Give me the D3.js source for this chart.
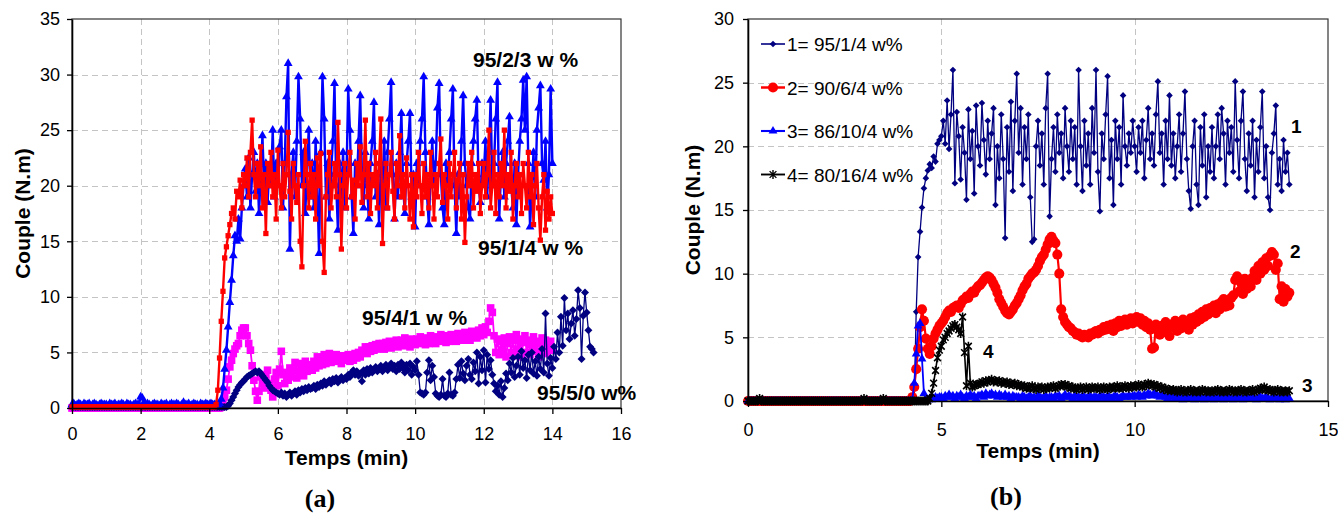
<!DOCTYPE html>
<html><head><meta charset="utf-8">
<script src="https://cdn.jsdelivr.net/npm/d3@7"></script>
<style>body{margin:0;background:#fff}svg{display:block}</style>
</head><body><svg id="c" width="1338" height="513"></svg>
<script>
// ---------------- DATA ----------------
// sampling step (min) of every series; each row below = 1 minute (20 samples)
const sampleStep = 0.05;

// Panel (a) tick values and labels
const aXTicks = [0,2,4,6,8,10,12,14,16];
const aYTicks = [0,5,10,15,20,25,30,35];
const aSeriesNames = ["95/2/3 w %","95/1/4 w %","95/4/1 w %","95/5/0 w%"];

// 95/2/3 w % (blue triangles)
const a_blue = [
 .3,.4,.2,.3,.4,.3,.2,.4,.3,.3,.4,.2,.3,.4,.3,.2,.3,.4,.3,.3,
 .3,.2,.4,.3,.3,.4,.2,.3,.3,.4,.3,.2,.4,.3,.3,.2,.3,.4,.3,.3,
 1.0,.9,.5,.3,.4,.3,.2,.3,.4,.3,.3,.2,.4,.3,.3,.4,.2,.3,.4,.3,
 .3,.4,.3,.2,.3,.5,.3,.3,.4,.2,.3,.4,.3,.3,.2,.4,.3,.3,.4,.3,
 .3,.4,.3,.3,.3,.3,.4,.8,1.8,3.5,5.2,7.3,9.5,11.5,13.7,15.5,15,17,15.2,18,
 20,21.5,19,22.5,18,21,23,19.5,22,17.5,21,24.5,20,22,18.5,21.5,20,25,19,22,
 20,23.5,25,18,22,28,31,14.3,21,23,19,24,29.8,26,20,23,17.5,22,25,19,
 22,18,24,20,13.9,23,29.8,26,19,22,17,21,24,29.2,20,16,22,19,23,18,
 21,28.7,25,19,15.7,22,20,24,28.1,21,18,23,20,17,22,24,27.5,19,21,16.5,
 22,20,24,18,23,26,29.3,21,17,22,19,23,26.5,20,17.5,22,24,26.5,19,21,
 16.3,22,20,24,26,29.8,23,19,16.5,21,24,20,22,27,29.2,21,18,16.5,22,20,
 23,26,28.7,20,15.7,21,19,24,28.1,22,20,18,17,22,24,26,27.7,20,18.5,22,
 21,24,19,23,27.7,20,22,26,29.3,17,21,23,19,22,24,26.2,20,18,22,16.5,
 21,24,26,29.5,25,29.8,22,16.3,20,23,19,25,27,29,22,20.5,24,18,21,28.7,
 22];

// 95/1/4 w % (red squares)
const a_red = [
 .1,.1,.1,.1,.1,.1,.1,.1,.1,.1,.1,.1,.1,.1,.1,.1,.1,.1,.1,.1,
 .1,.1,.1,.1,.1,.1,.1,.1,.1,.1,.1,.1,.1,.1,.1,.1,.1,.1,.1,.1,
 .1,.1,.1,.1,.1,.1,.1,.1,.1,.1,.1,.1,.1,.1,.1,.1,.1,.1,.1,.1,
 .1,.1,.1,.1,.1,.1,.1,.1,.1,.1,.1,.1,.1,.1,.1,.1,.1,.1,.1,.1,
 .1,.1,.1,.1,.3,1.6,4.5,7.8,10.5,13.5,14.5,15.5,16.5,17.5,18,17,19.5,19,20.5,18,
 21,20,22.5,19,23,25.9,21,19,22,20,23.5,18,21,15.7,22,20,23,19,21,17,
 23.2,20,18,22,19,21,24.8,19.5,17,22,20,18.5,21,15,12.7,20,24,21,18,22,
 19,21,17,22.5,20,22.9,15,12.2,19,21,23,18,20,22,19,25.7,21,14.3,20,22,
 18,21,23,19,20.5,17,22,20,23.5,18.5,21,25.9,19,22,17.5,21,20,23,18,22,
 26,14.8,20,22,18,21,23,19.5,17,22,20,24.5,19,21,18,22.5,20,17,21,16.3,
 21,19,23,20,17.5,22,19,21,18,23,20,17,21,19,22,24.2,18.5,21,20,17,
 22,19,21,23,18,20.5,22,17,21,14.9,19,22,20,23,18,21,19.5,22,17.5,20,
 22,19,21,25,18,20,23,17.5,21,19,22,20,25,18,21,19.5,23,17,20,22,
 19,21,17.5,22,20,18,23,19,21,16.5,20,22,18,15.1,19,21,16,19.5,17,19,
 17.5];

// 95/4/1 w % (magenta squares)
const a_magenta = [
 0,0,0,0,0,0,0,0,0,0,0,0,0,0,0,0,0,0,0,0,
 0,0,0,0,0,0,0,0,0,0,0,0,0,0,0,0,0,0,0,0,
 0,0,0,0,0,0,0,0,0,0,0,0,0,0,0,0,0,0,0,0,
 0,0,0,0,0,0,0,0,0,0,0,0,0,0,0,0,0,0,0,0,
 0,0,0,0,0,0,0,.1,.5,1.0,1.6,2.6,3.7,4.3,4.9,5.3,5.6,5.8,6.5,7.0,
 7.2,7.2,6.5,5.8,5.2,3.8,2.5,1.5,.7,1.5,2.8,2.2,1.8,3.0,3.4,2.2,1.6,1.0,2.6,3.2,
 2.0,3.5,5.1,3.0,2.2,3.2,2.5,3.6,2.8,3.4,4.1,2.7,4.0,3.2,3.8,2.9,4.2,3.3,3.9,3.4,
 3.4,4.2,3.6,4.6,3.8,4.4,3.9,4.8,4.0,4.5,4.9,4.1,4.6,4.2,4.8,4.3,4.5,4.0,4.7,4.4,
 4.3,4.8,4.2,4.6,4.3,4.9,4.5,5.0,4.6,5.2,5.0,5.5,4.9,5.5,5.1,5.6,5.2,5.7,5.3,5.8,
 5.4,5.8,5.3,5.9,5.5,6.0,5.4,5.8,5.6,6.1,5.5,5.9,6.1,5.6,6.3,5.7,6.0,5.5,6.2,5.8,
 5.7,6.2,5.8,6.4,5.9,6.3,5.7,6.2,5.8,6.5,6.0,6.3,5.8,6.4,6.0,6.6,6.1,6.4,5.9,6.5,
 6.0,6.6,6.2,6.5,6.0,6.7,6.2,6.5,6.1,6.8,6.3,6.6,6.1,6.9,6.4,6.7,6.3,7.0,6.5,7.2,
 6.6,7.3,6.8,7.8,9.0,8.6,6.5,5.0,6.2,4.8,6.0,5.2,6.3,4.6,5.8,6.4,5.0,6.1,4.7,6.6,
 5.3,6.2,4.6,5.9,6.5,5.0,6.1,4.8,5.7,6.4,5.1,6.0,4.6,5.8,6.3,5.0,6.1,4.9,5.6,6.0,
 5.2];

// 95/5/0 w% (navy diamonds) - runs to 15.2 min
const a_navy = [
 .1,.1,.1,.1,.1,.1,.1,.1,.1,.1,.1,.1,.1,.1,.1,.1,.1,.1,.1,.1,
 .1,.1,.1,.1,.1,.1,.1,.1,.1,.1,.1,.1,.1,.1,.1,.1,.1,.1,.1,.1,
 .1,.1,.1,.1,.1,.1,.1,.1,.1,.1,.1,.1,.1,.1,.1,.1,.1,.1,.1,.1,
 .1,.1,.1,.1,.1,.1,.1,.1,.1,.1,.1,.1,.1,.1,.1,.1,.1,.1,.1,.1,
 .1,.1,.1,.1,.1,.1,.1,.1,.1,.1,.1,.2,.4,.7,1.0,1.3,1.6,1.9,2.1,2.3,
 2.4,2.6,2.8,2.9,3.0,3.1,3.2,3.3,3.2,3.3,3.1,2.9,2.7,2.5,2.3,2.0,1.8,1.6,1.5,1.4,
 1.3,1.2,1.4,1.1,1.3,1.0,1.2,1.4,1.1,1.3,1.5,1.2,1.6,1.4,1.7,1.5,1.8,1.6,1.9,1.7,
 1.8,2.0,1.7,2.1,1.9,2.2,2.0,2.4,2.1,2.3,2.5,2.2,2.6,2.4,2.7,2.3,2.6,2.8,2.5,2.7,
 2.6,3.0,2.8,3.2,3.4,3.0,3.3,2.9,3.1,2.4,3.4,3.0,3.5,3.1,3.6,3.2,3.4,3.7,3.3,3.5,
 3.8,3.3,3.6,3.9,3.4,3.7,4.0,3.5,3.8,3.3,3.9,3.5,4.1,3.6,3.2,3.9,3.4,4.0,3.0,3.7,
 3.4,4.2,3.0,1.4,1.3,1.2,1.4,3.2,4.3,2.5,3.8,2.8,1.3,1.1,1.0,1.2,2.6,1.1,1.0,1.3,
 3.2,1.2,1.1,1.4,2.6,3.9,2.7,4.2,3.1,2.5,3.8,4.4,3.0,2.6,4.1,3.3,5.0,2.2,4.6,3.4,
 5.2,2.3,4.8,3.5,4.3,3.0,2.2,1.5,2.0,1.2,2.4,1.0,1.8,3.1,2.5,4.0,3.2,4.5,2.8,3.8,
 4.6,3.0,5.1,3.6,4.3,2.7,4.8,3.4,5.0,3.1,4.2,2.9,4.6,3.5,5.3,3.2,8.5,4.0,2.9,4.5,
 3.6,5.5,4.4,6.8,5.0,8.2,5.6,9.9,7.0,8.5,6.2,7.6,8.8,6.5,8.0,10.6,9.0,4.4,8.3,10.4,
 8.6,7.0,5.5,5.3,5.0];

// Panel (b) tick values and labels
const bXTicks = [0,5,10,15];
const bYTicks = [0,5,10,15,20,25,30];
const bLegendNames = ["1= 95/1/4 w%","2= 90/6/4 w%","3= 86/10/4 w%","4= 80/16/4 w%"];
const bCurveLabels = ["1","2","3","4"];

// 1 = 95/1/4 w% (navy diamonds)
const b_s1 = [
 0,0,0,0,0,0,0,0,0,0,0,0,0,0,0,0,0,0,0,0,
 0,0,0,0,0,0,0,0,0,0,0,0,0,0,0,0,0,0,0,0,
 0,0,0,0,0,0,0,0,0,0,0,0,0,0,0,0,0,0,0,0,
 0,0,0,0,0,0,0,0,0,0,0,0,0,0,0,0,0,0,0,0,
 0,0,0,0,0,0,.2,7,11.3,13.3,15.2,16.7,17.5,18.1,18.6,18.3,19.2,18.8,20.2,20.5,
 20.8,22.0,20.2,23.6,19.8,22.5,26.0,17.1,22.7,20.8,17.4,21.5,19.5,15.8,22.9,19.0,21.2,16.3,23.2,20.0,
 18.5,23.4,20.5,17.8,22.0,19.0,21.0,23.0,15.4,20.0,17.5,22.5,19.0,12.8,21.5,18.0,23.5,16.5,22.0,25.7,
 19.5,23.0,17.0,21.5,19.0,22.5,16.0,12.5,12.7,20.0,22.0,18.5,21.0,17.0,23.0,25.7,14.5,19.0,21.5,18.0,
 22.5,19.5,21.0,17.5,23.0,20.0,18.0,22.0,19.0,21.5,17.0,26.0,20.0,16.5,22.0,18.5,21.0,17.0,23.0,19.5,
 26.0,18.0,14.9,21.0,19.0,22.5,25.5,17.5,20.5,15.4,22.0,19.0,21.5,17.0,24.0,20.0,18.5,21.0,19.5,22.0,
 20.0,18.0,21.5,19.5,22.0,17.5,20.5,23.0,19.0,21.0,18.5,22.5,25.1,19.5,21.0,17.0,22.0,19.0,24.0,18.5,
 21.0,17.5,20.0,22.5,18.0,21.0,24.3,19.0,16.5,15.1,20.0,22.0,17.0,15.4,21.5,18.5,22.5,16.0,20.0,18.0,
 21.5,17.5,20.0,22.5,19.0,23.0,21.0,17.0,22.0,19.5,21.5,18.0,25.1,20.5,17.5,22.0,24.3,19.0,16.5,21.0,
 18.5,22.0,16.0,20.5,18.0,21.5,24.3,17.5,20.0,16.0,15.0,19.5,21.0,23.2,17.0,19.0,16.5,20.5,18.0,19.5,
 17.0];

// 2 = 90/6/4 w% (red circles)
const b_s2 = [
 0,0,0,0,0,0,0,0,0,0,0,0,0,0,0,0,0,0,0,0,
 0,0,0,0,0,0,0,0,0,0,0,0,0,0,0,0,0,0,0,0,
 0,0,0,0,0,0,0,0,0,0,0,0,0,0,0,0,0,0,0,0,
 0,0,0,0,0,0,0,0,0,0,0,0,0,0,0,0,0,0,0,0,
 0,0,0,0,0,.3,1.1,2.5,4.1,5.8,7.2,6.3,4.9,4.1,3.7,4.3,4.9,5.3,5.6,5.9,
 6.1,6.3,6.6,6.9,7.1,7.0,7.3,7.4,7.5,7.3,7.6,7.9,8.0,8.2,8.1,8.4,8.6,8.5,8.8,9.0,
 9.1,9.3,9.5,9.7,9.8,9.7,9.5,9.2,8.9,8.5,8.0,7.7,7.4,7.1,6.9,6.8,7.0,7.2,7.5,7.7,
 8.0,8.3,8.7,9.0,9.2,9.6,9.8,10.0,10.1,10.3,10.6,11.0,11.3,11.5,11.9,12.3,12.7,12.9,12.6,12.4,
 11.5,10.0,7.2,6.6,6.2,6.0,5.8,5.7,5.5,5.4,5.2,5.3,5.1,5.0,5.2,5.1,5.0,5.3,5.2,5.4,
 5.5,5.3,5.6,5.5,5.8,5.6,5.9,5.7,6.0,5.5,6.1,5.8,6.3,5.9,6.2,6.4,6.0,6.3,6.5,6.1,
 6.4,6.6,6.2,6.5,6.0,6.3,5.8,6.1,5.6,4.1,4.2,6.0,5.5,5.2,5.9,5.4,6.2,5.7,5.1,6.0,
 5.8,6.3,5.5,6.1,5.7,6.4,5.9,6.2,5.6,6.5,6.0,6.6,6.2,6.8,6.4,7.0,6.6,7.2,6.8,7.3,
 7.0,7.5,6.9,7.6,7.2,7.8,8.0,7.4,7.9,7.5,8.1,8.3,9.5,9.8,8.6,9.3,8.4,9.6,8.8,9.4,
 9.0,9.7,10.2,9.5,10.6,10.0,10.9,10.3,11.2,10.6,11.4,11.7,11.5,10.3,10.8,8.0,9.0,7.8,8.8,8.2,
 8.5];

// 3 = 86/10/4 w% (blue triangles)
const b_s3 = [
 0,0,0,0,0,0,0,0,0,0,0,0,0,0,0,0,0,0,0,0,
 0,0,0,0,0,0,0,0,0,0,0,0,0,0,0,0,0,0,0,0,
 0,0,0,0,0,0,0,0,0,0,0,0,0,0,0,0,0,0,0,0,
 0,0,0,0,0,0,0,0,0,0,0,0,0,0,0,0,0,0,0,0,
 0,0,0,0,0,.1,1.4,3.7,5.9,6.1,3.3,.6,.1,.1,.2,.1,.2,.3,.2,.3,
 .3,.2,.4,.3,.5,.3,.4,.2,.4,.3,.5,.3,.2,.4,.3,.5,.3,.4,.2,.4,
 .4,.5,.3,.6,.4,.5,.6,.4,.5,.3,.5,.4,.3,.5,.3,.4,.2,.4,.3,.3,
 .3,.2,.4,.3,.2,.3,.4,.2,.3,.2,.4,.3,.2,.3,.4,.2,.3,.3,.2,.4,
 .3,.4,.2,.3,.5,.3,.4,.3,.2,.4,.3,.3,.2,.4,.3,.2,.3,.4,.2,.3,
 .3,.2,.4,.3,.3,.2,.4,.3,.2,.3,.4,.3,.2,.3,.4,.3,.3,.4,.3,.4,
 .4,.3,.5,.4,.3,.5,.4,.6,.5,.4,.6,.5,.4,.3,.5,.4,.3,.2,.4,.3,
 .3,.2,.3,.2,.3,.1,.2,.3,.2,.2,.3,.1,.2,.3,.2,.2,.1,.3,.2,.2,
 .2,.1,.3,.2,.2,.3,.1,.2,.2,.3,.2,.1,.2,.3,.2,.2,.1,.2,.3,.2,
 .2,.3,.2,.1,.2,.3,.2,.2,.3,.2,.1,.2,.3,.2,.2,.1,.2,.2,.1,.2,
 .2];

// 4 = 80/16/4 w% (black stars)
const b_s4 = [
 0,0,0,0,0,0,.2,0,0,0,0,0,0,0,0,0,0,0,0,0,
 0,0,0,0,0,0,0,0,0,0,0,0,0,0,0,0,0,0,0,0,
 0,0,0,0,0,0,0,0,0,0,0,0,0,0,0,0,0,0,0,0,
 .2,0,0,0,0,0,0,0,0,0,.2,0,0,0,0,0,0,0,0,0,
 0,0,0,0,0,0,0,0,0,0,0,0,0,0,.2,.6,1.4,2.4,3.4,4.0,
 4.3,4.8,5.0,5.3,5.5,5.7,5.9,6.0,5.8,5.6,5.3,6.6,3.8,1.2,4.3,1.4,1.1,1.2,1.3,1.3,
 1.4,1.5,1.4,1.6,1.5,1.6,1.7,1.5,1.6,1.5,1.6,1.4,1.5,1.4,1.5,1.3,1.4,1.3,1.4,1.2,
 1.3,1.2,1.1,1.2,1.0,1.1,1.0,1.2,1.0,0.9,1.1,1.0,1.1,0.9,1.0,1.1,1.0,1.1,1.2,1.0,
 1.1,1.2,1.3,1.2,1.3,1.1,1.2,1.0,1.1,1.0,0.9,1.0,1.1,0.9,1.0,1.1,0.9,1.0,1.1,1.0,
 1.0,1.1,0.9,1.0,1.1,1.0,0.9,1.1,1.0,1.1,1.0,1.2,1.0,1.1,1.0,1.2,1.1,1.0,1.2,1.1,
 1.2,1.1,1.3,1.2,1.1,1.3,1.2,1.4,1.3,1.2,1.3,1.1,1.2,1.0,1.1,0.9,1.0,0.8,0.9,0.8,
 0.9,0.8,0.7,0.8,0.9,0.7,0.8,0.7,0.8,0.9,0.7,0.8,0.7,0.8,0.7,0.9,0.8,0.7,0.8,0.7,
 0.8,0.7,0.8,0.9,0.7,0.8,0.7,0.8,0.7,0.9,0.8,0.7,0.8,0.7,0.8,0.9,0.7,0.8,0.7,0.8,
 0.8,0.9,0.7,0.8,0.9,1.0,0.9,1.1,0.9,0.8,0.9,0.8,0.7,0.8,0.9,0.7,0.8,0.7,0.8,0.7,
 0.8];

// ---------------- DRAWING ----------------
const svg = d3.select('#c');
const SANS = "'Liberation Sans', Arial, Helvetica, sans-serif";
const SERIF = "'Liberation Serif', 'Times New Roman', serif";

function diamondPath(r){ return `M0,${-r}L${r},0L0,${r}L${-r},0Z`; }
function starPath(r){ const k=r*0.75; return `M${-k},${-k}L${k},${k}M${-k},${k}L${k},${-k}M0,${-r}L0,${r}`; }
function markerPath(kind, size){
  if(kind==='tri') return d3.symbol(d3.symbolTriangle, size)();
  if(kind==='sq') return d3.symbol(d3.symbolSquare, size)();
  if(kind==='circ') return d3.symbol(d3.symbolCircle, size)();
  if(kind==='dia') return diamondPath(size);
  return starPath(size);
}

function drawPanel(cfg){
  const g = svg.append('g');
  const x = d3.scaleLinear().domain(cfg.xd).range(cfg.xr);
  const y = d3.scaleLinear().domain(cfg.yd).range(cfg.yr);
  // grid
  const grid = g.append('g').attr('stroke','#c4c4c4').attr('stroke-width',1).attr('stroke-dasharray','6,4');
  grid.selectAll('line.h').data(cfg.yt.filter(v=>v>cfg.yd[0]&&v<cfg.yd[1])).join('line')
    .attr('x1',cfg.xr[0]).attr('x2',cfg.xr[1]).attr('y1',d=>Math.round(y(d))+0.5).attr('y2',d=>Math.round(y(d))+0.5);
  grid.selectAll('line.v').data(cfg.xt.filter(v=>v>cfg.xd[0]&&v<cfg.xd[1])).join('line')
    .attr('y1',cfg.yr[1]).attr('y2',cfg.yr[0]).attr('x1',d=>Math.round(x(d))+0.5).attr('x2',d=>Math.round(x(d))+0.5);
  // frame
  g.append('rect').attr('x',cfg.xr[0]).attr('y',cfg.yr[1]).attr('width',cfg.xr[1]-cfg.xr[0])
    .attr('height',cfg.yr[0]-cfg.yr[1]).attr('fill','none').attr('stroke','#333').attr('stroke-width',1.2);
  // series
  cfg.series.forEach(s=>{
    const pts = s.values.map((v,i)=>[i*sampleStep, v]);
    const line = d3.line().x(d=>x(d[0])).y(d=>y(d[1]));
    g.append('path').attr('d',line(pts)).attr('fill','none').attr('stroke',s.color)
      .attr('stroke-width',s.lw).attr('stroke-linejoin','round');
    const mp = markerPath(s.mk, s.ms);
    const m = g.append('g').selectAll('path').data(pts).join('path')
      .attr('transform',d=>`translate(${x(d[0]).toFixed(2)},${y(d[1]).toFixed(2)})`).attr('d',mp);
    if(s.mk==='star') m.attr('fill','none').attr('stroke',s.color).attr('stroke-width',1.6);
    else m.attr('fill',s.color).attr('stroke','none');
  });
  // axes
  const ax = g.append('g').attr('transform',`translate(0,${cfg.yr[0]})`)
    .call(d3.axisBottom(x).tickValues(cfg.xt).tickSize(6).tickSizeOuter(0).tickPadding(cfg.xPad).tickFormat(d3.format('d')));
  const ay = g.append('g').attr('transform',`translate(${cfg.xr[0]},0)`)
    .call(d3.axisLeft(y).tickValues(cfg.yt).tickSize(5).tickSizeOuter(0).tickPadding(cfg.yPad).tickFormat(d3.format('d')));
  [ax,ay].forEach(a=>{
    a.select('.domain').attr('stroke','#000').attr('stroke-width',1.6);
    a.selectAll('.tick line').attr('stroke','#000').attr('stroke-width',1.3);
    a.selectAll('.tick text').attr('font-family',SANS).attr('font-size',18).attr('fill','#000');
  });
  // axis titles
  g.append('text').attr('x',(cfg.xr[0]+cfg.xr[1])/2).attr('y',cfg.xTitleY).attr('text-anchor','middle')
    .attr('font-family',SANS).attr('font-weight','bold').attr('font-size',21).text('Temps (min)');
  g.append('text').attr('transform',`translate(${cfg.yTitleX},${(cfg.yr[0]+cfg.yr[1])/2}) rotate(-90)`)
    .attr('text-anchor','middle').attr('font-family',SANS).attr('font-weight','bold').attr('font-size',21).text('Couple (N.m)');
  g.append('text').attr('x',cfg.tag[0]).attr('y',cfg.tag[1]).attr('text-anchor','middle')
    .attr('font-family',SERIF).attr('font-weight','bold').attr('font-size',26).text(cfg.tag[2]);
  return {g,x,y};
}

// Panel (a)
const A = drawPanel({
  xd:[0,16], yd:[0,35], xr:[72,621], yr:[408,19], xt:aXTicks, yt:aYTicks,
  xPad:13, yPad:7, xTitleY:465, yTitleX:30, tag:[320,507,'(a)'],
  series:[
    {values:a_magenta, color:'#FF00FF', lw:1.8, mk:'sq', ms:58},
    {values:a_navy, color:'#000080', lw:1.3, mk:'dia', ms:4},
    {values:a_blue, color:'#0000FF', lw:2.4, mk:'tri', ms:34},
    {values:a_red, color:'#FF0000', lw:2.4, mk:'sq', ms:28}
  ]
});
const aLabelPos = [[473,67],[478,255],[362,325],[537,400]];
A.g.append('g').selectAll('text').data(aSeriesNames).join('text')
  .attr('x',(d,i)=>aLabelPos[i][0]).attr('y',(d,i)=>aLabelPos[i][1])
  .attr('font-family',SANS).attr('font-weight','bold').attr('font-size',21).text(d=>d);

// Panel (b)
const bStyles = [
  {color:'#000080', lw:1.3, mk:'dia', ms:3.3},
  {color:'#FF0000', lw:2.2, mk:'circ', ms:80},
  {color:'#0000FF', lw:1.8, mk:'tri', ms:34},
  {color:'#000000', lw:1.6, mk:'star', ms:4.5}
];
const bData = [b_s1,b_s2,b_s3,b_s4];
const B = drawPanel({
  xd:[0,15], yd:[0,30], xr:[748,1328], yr:[401,19], xt:bXTicks, yt:bYTicks,
  xPad:16, yPad:9, xTitleY:458, yTitleX:700, tag:[1006,505,'(b)'],
  series:bData.map((v,i)=>Object.assign({values:v}, bStyles[i]))
});
// legend
const leg = B.g.append('g');
bLegendNames.forEach((name,i)=>{
  const yy = 44 + i*43.5;
  const st = bStyles[i];
  leg.append('line').attr('x1',761).attr('x2',785).attr('y1',yy).attr('y2',yy)
    .attr('stroke',st.color).attr('stroke-width',st.lw+0.3);
  const m = leg.append('path').attr('transform',`translate(773,${yy})`).attr('d',markerPath(st.mk, st.ms));
  if(st.mk==='star') m.attr('fill','none').attr('stroke',st.color).attr('stroke-width',1.4);
  else m.attr('fill',st.color);
  leg.append('text').attr('x',787).attr('y',yy+7).attr('font-family',SANS).attr('font-size',19).text(name);
});
// curve numbers
const bLabelPos = [[1291,133],[1290,258],[1302,392],[983,358]];
B.g.append('g').selectAll('text').data(bCurveLabels).join('text')
  .attr('x',(d,i)=>bLabelPos[i][0]).attr('y',(d,i)=>bLabelPos[i][1])
  .attr('font-family',SANS).attr('font-weight','bold').attr('font-size',19).text(d=>d);
</script>
</body></html>
